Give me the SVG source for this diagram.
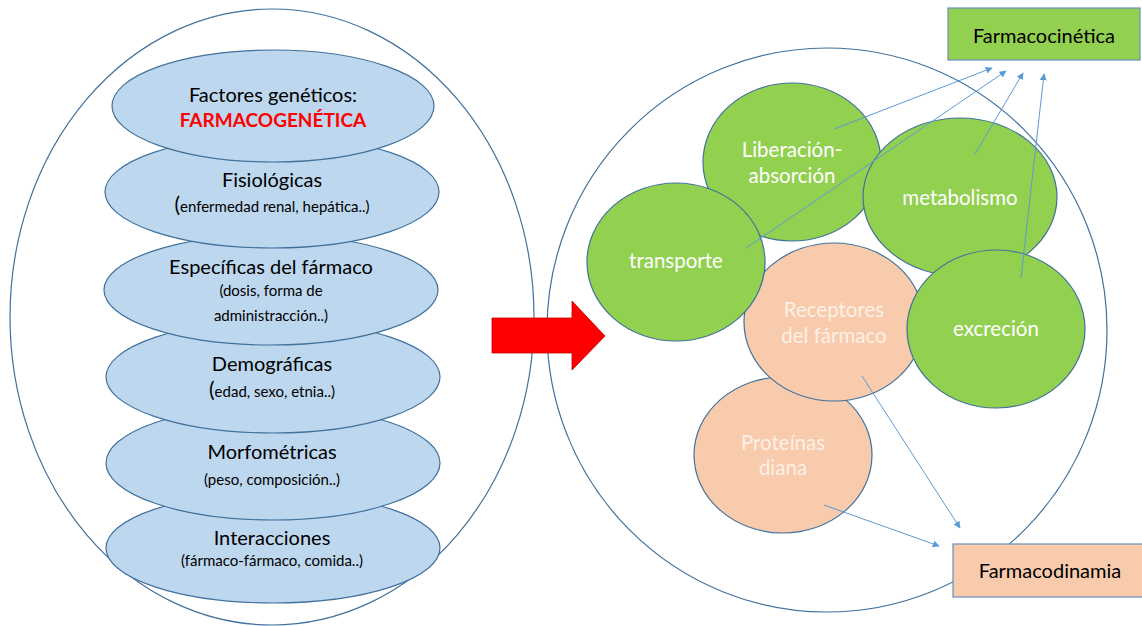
<svg xmlns="http://www.w3.org/2000/svg" width="1142" height="626" viewBox="0 0 1142 626">
<defs>
<style>
.outer{fill:#ffffff;stroke:#41719c;stroke-width:1.2}
.fac{fill:#bdd7ee;stroke:#41719c;stroke-width:1.2}
.green{fill:#92d050;stroke:#41719c;stroke-width:1.2}
.peach{fill:#f8cbad;stroke:#41719c;stroke-width:1.2}
text{font-family:Lato,"Liberation Sans",sans-serif;text-anchor:middle}
.t1{font-size:20px;fill:#000}
.t2{font-size:15px;fill:#000}
.tw{font-size:20.5px;fill:#ffffff}
.tp{font-size:20.5px;fill:#fdf0e6}
.red{font-size:19px;font-weight:bold;fill:#ff0000}
.conn{stroke:#5b9bd5;stroke-width:1;fill:none;marker-end:url(#ah)}
</style>
<marker id="ah" viewBox="0 0 10 10" refX="9" refY="5" markerWidth="7" markerHeight="7" orient="auto" markerUnits="userSpaceOnUse">
<path d="M0,0 L10,5 L0,10 z" fill="#5b9bd5"/>
</marker>
</defs>
<rect width="1142" height="626" fill="#ffffff"/>

<g id="factores-container">
<ellipse class="outer" cx="272" cy="317" rx="262" ry="308"/>
</g>
<g id="interacciones">
<ellipse class="fac" cx="273" cy="548" rx="167" ry="55"/>
<text class="t1" x="272" y="545">Interacciones</text>
<text class="t2" x="272" y="566">(fármaco-fármaco, comida..)</text>
</g>
<g id="morfometricas">
<ellipse class="fac" cx="273" cy="463" rx="167" ry="57"/>
<text class="t1" x="272" y="459">Morfométricas</text>
<text class="t2" x="272" y="485">(peso, composición..)</text>
</g>
<g id="demograficas">
<ellipse class="fac" cx="273" cy="377" rx="167" ry="56"/>
<text class="t1" x="272" y="371">Demográficas</text>
<text class="t2" x="272" y="397"><tspan font-size="21">(</tspan>edad, sexo, etnia..)</text>
</g>
<g id="especificas">
<ellipse class="fac" cx="271" cy="290" rx="167" ry="55"/>
<text class="t1" x="271" y="274">Específicas del fármaco</text>
<text class="t2" x="271" y="296">(dosis, forma de</text>
<text class="t2" x="271" y="321">administracción..)</text>
</g>
<g id="fisiologicas">
<ellipse class="fac" cx="272" cy="192" rx="167" ry="56"/>
<text class="t1" x="272" y="187">Fisiológicas</text>
<text class="t2" x="272" y="212"><tspan font-size="21">(</tspan>enfermedad renal, hepática..)</text>
</g>
<g id="geneticos">
<ellipse class="fac" cx="273" cy="106" rx="161" ry="56"/>
<text class="t1" x="273" y="102">Factores genéticos:</text>
<text class="red" x="273" y="127">FARMACOGENÉTICA</text>
</g>

<g id="procesos-container">
<ellipse class="outer" cx="827" cy="330" rx="280" ry="282"/>
</g>

<g id="big-arrow">
<path d="M492,318 L572,318 L572,301 L605,336 L572,370 L572,353 L492,353 z" fill="#ff0000" stroke="#c00000" stroke-width="0.8"/>
</g>

<g id="proteinas">
<ellipse class="peach" cx="783" cy="455" rx="89" ry="78"/>
<text class="tp" x="783" y="450">Proteínas</text>
<text class="tp" x="783" y="475">diana</text>
</g>
<g id="receptores">
<ellipse class="peach" cx="834" cy="322" rx="90" ry="79"/>
<text class="tp" x="834" y="317">Receptores</text>
<text class="tp" x="834" y="343">del fármaco</text>
</g>
<g id="liberacion">
<ellipse class="green" cx="792" cy="162" rx="89" ry="79"/>
<text class="tw" x="792" y="157">Liberación-</text>
<text class="tw" x="792" y="183">absorción</text>
</g>
<g id="metabolismo">
<ellipse class="green" cx="960" cy="197" rx="97" ry="79"/>
<text class="tw" x="960" y="205">metabolismo</text>
</g>
<g id="transporte">
<ellipse class="green" cx="676" cy="262" rx="89" ry="79"/>
<text class="tw" x="676" y="268">transporte</text>
</g>
<g id="excrecion">
<ellipse class="green" cx="996" cy="329" rx="89" ry="79"/>
<text class="tw" x="996" y="336">excreción</text>
</g>

<g id="farmacocinetica">
<rect x="948" y="8" width="192" height="52" fill="#92d050" stroke="#6c8ebf" stroke-width="1.2"/>
<text class="t1" x="1044" y="43">Farmacocinética</text>
</g>
<g id="farmacodinamia">
<rect x="953" y="544" width="190" height="53" fill="#f8cbad" stroke="#6c8ebf" stroke-width="1.2"/>
<text class="t1" x="1050" y="578">Farmacodinamia</text>
</g>

<g id="connectors">
<line class="conn" x1="834" y1="129" x2="992" y2="68"/>
<line class="conn" x1="746" y1="248" x2="1006" y2="71"/>
<line class="conn" x1="975" y1="154" x2="1023" y2="73"/>
<line class="conn" x1="1021" y1="278" x2="1044" y2="74"/>
<line class="conn" x1="862" y1="376" x2="960" y2="528"/>
<line class="conn" x1="824" y1="505" x2="939" y2="546"/>
</g>
</svg>
